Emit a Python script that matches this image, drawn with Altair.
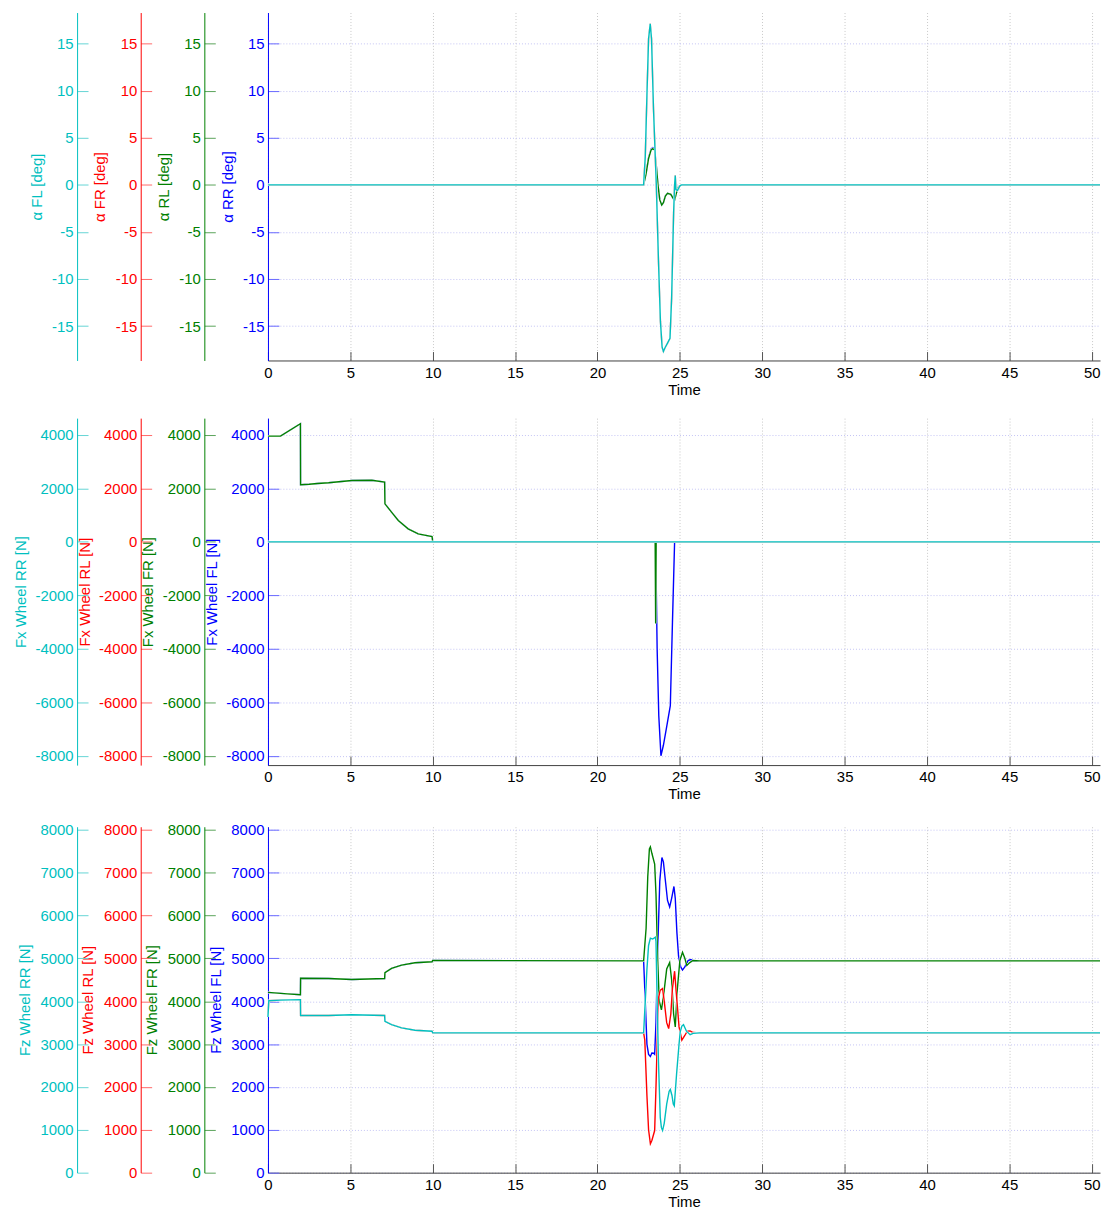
import altair as alt
import pandas as pd

FONT = "Liberation Sans"
CYAN, RED, GREEN, BLUE = "#00BFBF", "#FF0000", "#008000", "#0000FF"
TICK_COL = {CYAN: "#66d5d5", RED: "#ff6a6a", GREEN: "#5aa35a", BLUE: "#6a6aff"}
X_DOMAIN = [0, 50.5]
X_TICKS = [0, 5, 10, 15, 20, 25, 30, 35, 40, 45, 50]

# ---------------- Panel 1: slip angles [deg] ----------------
T_ALPHA_F = [0, 22.8, 22.9, 23.0, 23.1, 23.2, 23.28, 23.4, 23.57, 23.7, 23.82, 23.92, 24.0,
             24.1, 24.25, 24.4, 24.5, 24.62, 24.68, 24.72, 24.76, 24.85, 25.0, 25.1, 50.5]
ALPHA_FL = [0, 0, 3.0, 9.5, 15.5, 17.1, 15.5, 8.0, 0, -8.0, -14.5, -17.2, -17.7,
            -17.3, -16.8, -16.3, -12.0, -3.0, 0, 1.0, -0.5, -0.6, -0.1, 0, 0]
ALPHA_FR = [0, 0, 3.0, 9.5, 15.5, 17.1, 15.5, 8.0, 0, -8.0, -14.5, -17.2, -17.7,
            -17.3, -16.8, -16.3, -12.0, -3.0, 0, 1.0, -0.5, -0.6, -0.1, 0, 0]
T_ALPHA_R = [0, 22.8, 22.95, 23.1, 23.25, 23.35, 23.47, 23.57, 23.67, 23.78, 23.9, 24.0,
             24.12, 24.25, 24.45, 24.62, 24.68, 24.8, 24.92, 25.1, 50.5]
ALPHA_RL = [0, 0, 1.2, 2.8, 3.7, 3.85, 3.7, 2.0, 0, -1.6, -2.15, -1.9,
            -1.2, -0.9, -1.0, -1.5, -1.6, -0.8, -0.2, 0, 0]
ALPHA_RR = [0, 0, 1.25, 2.9, 3.8, 3.95, 3.8, 2.05, 0, -1.6, -2.15, -1.9,
            -1.2, -0.9, -1.0, -1.5, -1.6, -0.8, -0.2, 0, 0]

# ---------------- Panel 2: longitudinal forces [N] ----------------
T_FX_FR = [0, 0.76, 1.97, 1.98, 2.5, 3.0, 3.68, 5.09, 6.3, 7.08, 7.1, 7.5, 7.91, 8.51,
           9.12, 9.96, 10.0, 23.5, 23.53, 23.56, 50.5]
FX_FR = [3950, 3950, 4410, 2130, 2150, 2180, 2206, 2293, 2300, 2231, 1420, 1110, 797, 486,
         299, 198, 0, 0, -3050, 0, 0]
T_FX_FL = [0, 0.76, 1.97, 1.98, 2.5, 3.0, 3.68, 5.09, 6.3, 7.08, 7.1, 7.5, 7.91, 8.51,
           9.12, 9.96, 10.0, 23.53, 23.62, 23.72, 23.85, 24.0, 24.2, 24.42, 24.55, 24.68, 50.5]
FX_FL = [3950, 3950, 4410, 2130, 2150, 2180, 2206, 2293, 2300, 2231, 1420, 1110, 797, 486,
         299, 198, 0, 0, -4000, -6500, -7990, -7600, -6900, -6120, -3000, 0, 0]
T_FX_R = [0, 50.5]
FX_RL = [0, 0]
FX_RR = [0, 0]

# ---------------- Panel 3: vertical forces [N] ----------------
T_FZ_FR = [0, 1.17, 1.97, 1.98, 3.68, 5.09, 7.08, 7.1, 7.5, 8.11, 8.92, 9.96, 10.0, 22.8,
           22.95, 23.05, 23.15, 23.21, 23.3, 23.47, 23.55, 23.65, 23.75, 23.88, 24.0, 24.2,
           24.38, 24.5, 24.62, 24.72, 24.85, 25.0, 25.16, 25.3, 25.42, 25.6, 25.8, 26.2, 50.5]
FZ_FR = [4206, 4170, 4151, 4535, 4528, 4505, 4528, 4666, 4765, 4842, 4896, 4919, 4949, 4940,
         5700, 6900, 7550, 7600, 7450, 7200, 6500, 5000, 4000, 3800, 4100, 4750,
         4900, 4500, 3700, 3400, 4300, 4950, 5141, 5000, 4834, 4900, 4950, 4940, 4940]
T_FZ_FL = [0, 1.17, 1.97, 1.98, 3.68, 5.09, 7.08, 7.1, 7.5, 8.11, 8.92, 9.96, 10.0, 22.8,
           22.9, 23.0, 23.1, 23.21, 23.3, 23.41, 23.47, 23.55, 23.65, 23.78, 23.91, 24.0,
           24.11, 24.25, 24.38, 24.5, 24.64, 24.72, 24.82, 24.92, 25.05, 25.16, 25.3, 25.5,
           25.65, 25.85, 26.5, 50.5]
FZ_FL = [4206, 4170, 4151, 4535, 4528, 4505, 4528, 4666, 4765, 4842, 4896, 4919, 4949, 4940,
         4000, 3000, 2760, 2709, 2790, 2785, 2760, 3500, 5127, 6800, 7351, 7250,
         6850, 6350, 6200, 6400, 6676, 6400, 5600, 5048, 4800, 4726, 4800, 4950,
         4970, 4934, 4940, 4940]
T_FZ_RR = [0, 0.05, 0.76, 1.97, 1.98, 3.68, 5.09, 7.08, 7.1, 7.5, 8.11, 8.92, 9.96, 10.0,
           22.8, 22.9, 23.0, 23.1, 23.21, 23.35, 23.51, 23.55, 23.62, 23.7, 23.81, 23.88,
           23.95, 24.05, 24.2, 24.35, 24.42, 24.52, 24.6, 24.66, 24.8, 24.95, 25.02, 25.12,
           25.22, 25.4, 25.62, 25.8, 26.2, 50.5]
FZ_RR = [3630, 4012, 4025, 4036, 3667, 3667, 3683, 3667, 3529, 3453, 3377, 3322, 3299, 3262,
         3262, 4000, 4742, 5300, 5471, 5450, 5494, 5400, 4000, 2600, 1289, 1050,
         983, 1150, 1600, 1900, 1941, 1800, 1600, 1558, 2300, 3000, 3285, 3420,
         3453, 3300, 3220, 3250, 3262, 3262]
T_FZ_RL = [0, 0.05, 0.76, 1.97, 1.98, 3.68, 5.09, 7.08, 7.1, 7.5, 8.11, 8.92, 9.96, 10.0,
           22.8, 22.87, 23.0, 23.1, 23.21, 23.3, 23.47, 23.55, 23.62, 23.69, 23.8, 23.95,
           24.05, 24.2, 24.32, 24.45, 24.55, 24.68, 24.78, 24.95, 25.12, 25.3, 25.45, 25.62,
           25.8, 26.2, 50.5]
FZ_RL = [3630, 4012, 4025, 4036, 3667, 3667, 3683, 3667, 3529, 3453, 3377, 3322, 3299, 3262,
         3262, 3100, 1800, 1000, 675, 750, 983, 2000, 3000, 4051, 4250, 4297,
         4000, 3500, 3361, 3700, 4300, 4700, 4200, 3400, 3092, 3200, 3300, 3308,
         3270, 3262, 3262]

AXIS_OFFSETS = {BLUE: 0, GREEN: 64, RED: 128, CYAN: 192}
PLOT_W = 837


def panel(series, y_domain, y_ticks, title_x, height):
    """series: list of (color, title, times, values), drawn in list order."""
    layers = []
    first = True
    xscale = alt.Scale(domain=X_DOMAIN, nice=False, zero=False)
    for color, title, times, values in series:
        df = pd.DataFrame({"t": times, "v": values})
        off = AXIS_OFFSETS[color]
        yscale = alt.Scale(domain=y_domain, nice=False, zero=False)
        x_axis_main = alt.Axis(orient="bottom", values=X_TICKS, title="Time",
                               grid=True, gridColor="#c8c8c8", gridDash=[1, 2],
                               ticks=False, tickSize=0, labelPadding=5, titlePadding=2,
                               domainColor="#404040", labelColor="#000000",
                               titleColor="#000000", labelFont=FONT, titleFont=FONT,
                               labelFontSize=15, titleFontSize=15,
                               titleFontWeight="normal", labelFlush=False)
        x_axis_ticks = alt.Axis(orient="bottom", values=X_TICKS, offset=-9, tickSize=9,
                                tickColor="#555555", labels=False, domain=False,
                                grid=False, title="")
        y_main = alt.Axis(orient="left", offset=off, values=y_ticks,
                          labelExpr="datum.value + ''", ticks=False, tickSize=0,
                          labelPadding=4, domainColor=color, labelColor=color,
                          labelFont=FONT, labelFontSize=15, title=title, titleColor=color,
                          titleFont=FONT, titleFontSize=15, titleFontWeight="normal",
                          titleX=title_x, titleY=height / 2, titleAngle=270,
                          titleAlign="center", titleBaseline="middle",
                          grid=(color == BLUE), gridColor="#c4c4f4", gridDash=[1, 2])
        y_ticks_axis = alt.Axis(orient="left", offset=off - 11, values=y_ticks, tickSize=11,
                                tickColor=TICK_COL[color], labels=False, domain=False,
                                grid=False, title="")
        # white underlay keeps the colour of the top curve clean where curves coincide
        under_layer = alt.Chart(df).mark_line(color="#ffffff", strokeWidth=2).encode(
            x=alt.X("t:Q", scale=xscale, axis=x_axis_ticks if first else None),
            y=alt.Y("v:Q", scale=yscale, axis=y_ticks_axis),
        )
        data_layer = alt.Chart(df).mark_line(color=color, strokeWidth=1.4).encode(
            x=alt.X("t:Q", scale=xscale, axis=x_axis_main if first else None),
            y=alt.Y("v:Q", scale=yscale, axis=y_main),
        )
        layers.append(under_layer)
        layers.append(data_layer)
        first = False
    return (alt.layer(*layers)
            .resolve_scale(y="independent")
            .resolve_axis(y="independent", x="independent")
            .properties(width=PLOT_W, height=height))


p1 = panel([
    (BLUE, "α RR [deg]", T_ALPHA_R, ALPHA_RR),
    (GREEN, "α RL [deg]", T_ALPHA_R, ALPHA_RL),
    (RED, "α FR [deg]", T_ALPHA_F, ALPHA_FR),
    (CYAN, "α FL [deg]", T_ALPHA_F, ALPHA_FL),
], [-18.65, 18.3], [-15, -10, -5, 0, 5, 10, 15], -41, 350)

p2 = panel([
    (BLUE, "Fx Wheel FL [N]", T_FX_FL, FX_FL),
    (GREEN, "Fx Wheel FR [N]", T_FX_FR, FX_FR),
    (RED, "Fx Wheel RL [N]", T_FX_R, FX_RL),
    (CYAN, "Fx Wheel RR [N]", T_FX_R, FX_RR),
], [-8340, 4620], [-8000, -6000, -4000, -2000, 0, 2000, 4000], -57, 349)

p3 = panel([
    (BLUE, "Fz Wheel FL [N]", T_FZ_FL, FZ_FL),
    (GREEN, "Fz Wheel FR [N]", T_FZ_FR, FZ_FR),
    (RED, "Fz Wheel RL [N]", T_FZ_RL, FZ_RL),
    (CYAN, "Fz Wheel RR [N]", T_FZ_RR, FZ_RR),
], [0, 8070], [0, 1000, 2000, 3000, 4000, 5000, 6000, 7000, 8000], -53, 348)

chart = (alt.vconcat(p1, p2, p3, spacing=19)
         .properties(padding={"top": 0, "left": 4.5, "right": 0, "bottom": 0})
         .configure_view(stroke="transparent"))

chart.save("out.html", embed_options={"renderer": "svg", "actions": False})
